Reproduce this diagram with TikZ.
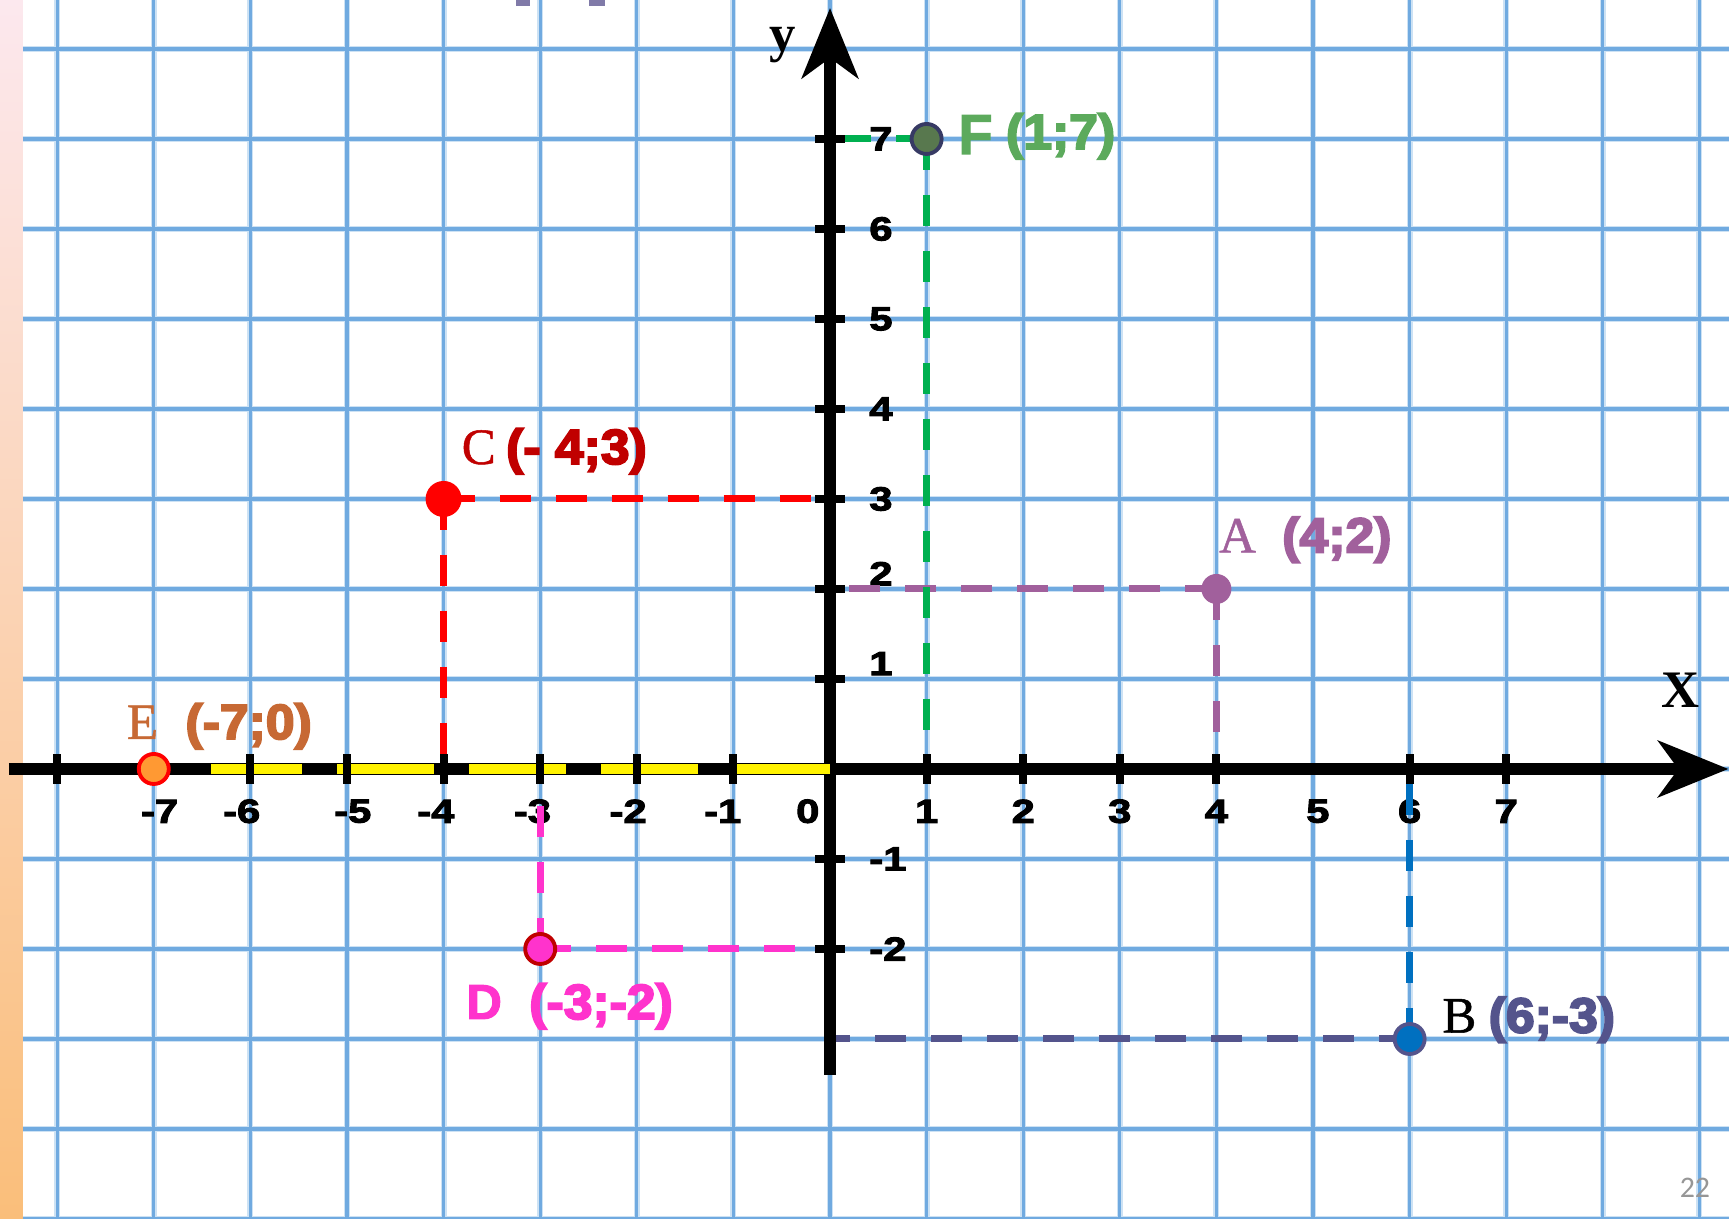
\documentclass[tikz,border=0pt]{standalone}
\usepackage{fontspec}
\setmainfont{Liberation Serif}
\newfontfamily\numfont[FakeStretch=1.25,FakeBold=3]{Liberation Sans}
\newfontfamily\coordfont[FakeStretch=1.05,FakeBold=4]{Liberation Sans}
\newfontfamily\letterfont[FakeBold=2]{Liberation Sans}
\newfontfamily\serifletter[FakeBold=1]{Liberation Serif}
\newfontfamily\pagefont{Carlito}
\usepackage{xcolor}
\definecolor{gridblue}{RGB}{112,170,224}
\definecolor{gridpale}{RGB}{205,226,244}
\definecolor{strippink}{RGB}{252,232,238}
\definecolor{striporange}{RGB}{250,190,122}
\definecolor{topmark}{RGB}{128,122,168}
\definecolor{plum}{RGB}{161,96,156}
\definecolor{pointblue}{RGB}{0,112,192}
\definecolor{slate}{RGB}{84,84,140}
\definecolor{darkred}{RGB}{192,0,0}
\definecolor{magentaD}{RGB}{255,51,204}
\definecolor{orangeE}{RGB}{255,153,51}
\definecolor{brownE}{RGB}{199,105,52}
\definecolor{greenF}{RGB}{0,176,80}
\definecolor{leafgreen}{RGB}{92,170,92}
\definecolor{oliveF}{RGB}{88,120,78}
\definecolor{navyF}{RGB}{55,58,100}
\definecolor{pagegrey}{RGB}{150,150,150}
\usepackage{tikz}
\usetikzlibrary{arrows.meta,positioning}
\tikzset{
  >={Stealth[length=7mm,width=5.6mm,inset=2mm]},
  gridwide/.style={draw=gridpale,line width=1.7pt,step=1},
  gridcore/.style={draw=gridblue,line width=0.9pt,step=1},
  axis/.style={->,draw=black,line width=3.5pt},
  highlight/.style={draw=yellow,line width=2.8pt,dash pattern=on 9.7mm off 3.5mm},
  tickmark/.style={draw=black,line width=2.3pt},
  ticklabel/.style={font=\numfont\bfseries\fontsize{9.5}{11}\selectfont,inner sep=0pt},
  guide/.style={line width=2pt,dash pattern=on 3.1mm off 2.5mm},
  point/.style={circle,inner sep=0pt,minimum size=3mm,line width=1.1pt},
  letter/.style={font=\serifletter\fontsize{14.5}{16}\selectfont,inner sep=0pt,anchor=base west},
  sansletter/.style={font=\letterfont\bfseries\fontsize{14}{16}\selectfont,inner sep=0pt,anchor=base west},
  coordlabel/.style={font=\coordfont\bfseries\fontsize{14}{16}\selectfont,inner sep=0pt,anchor=base west},
  axisname/.style={font=\bfseries\fontsize{15}{17}\selectfont,inner sep=0pt}
}

\begin{document}
\begin{tikzpicture}[x=0.966cm,y=0.9cm]
  % Paper
  \useasboundingbox (-8.592,-5) rectangle (9.306,8.544);
  \fill[white] (-8.592,-5) rectangle (9.306,8.544);
  \shade[top color=strippink,bottom color=striporange] (-8.592,-5) rectangle (-8.354,8.544);
  \draw[gridwide] (-8.354,-5) grid (9.306,8.544);
  \draw[gridcore] (-8.354,-5) grid (9.306,8.544);
  \fill[topmark] (-3.25,8.478) rectangle (-3.106,8.544);
  \fill[topmark] (-2.495,8.478) rectangle (-2.329,8.544);

  % Tick labels
  \foreach \n/\s in {1/0,2/0,3/0,4/0,5/0.05,6/0,7/0}
    \node[ticklabel] (xp\n) at (\n+\s,-0.47) {\n};
  \foreach \n/\s in {1/-0.11,2/-0.09,3/-0.08,4/-0.08,5/0.06,6/-0.09,7/0.06}
    \node[ticklabel] (xm\n) at (-\n+\s,-0.47) {-\n};
  \node[ticklabel] (zero) at (-0.23,-0.47) {0};
  \foreach \n/\s [count=\i] in {7/0,6/0,5/0,4/0,3/0,2/0.17,1/0.17,-1/0,-2/0}
    \node[ticklabel,anchor=west] (yl\i) at (0.4,\n+\s) {\n};

  % Point centres and their feet on the axes
  \coordinate (pA) at (4,2);   \coordinate (Ax) at (4,0);  \coordinate (Ay) at (0,2);
  \coordinate (pB) at (6,-3);  \coordinate (Bx) at (6,0);  \coordinate (By) at (0,-3);
  \coordinate (pC) at (-4,3);  \coordinate (Cx) at (-4,0); \coordinate (Cy) at (0,3);
  \coordinate (pD) at (-3,-2); \coordinate (Dx) at (-3,0); \coordinate (Dy) at (0,-2);
  \coordinate (pE) at (-7,0);
  \coordinate (pF) at (1,7);   \coordinate (Fx) at (1,0);  \coordinate (Fy) at (0,7);

  % Guides
  \draw[guide,plum] (pA) -- (Ay);
  \draw[guide,plum] (pA) -- (Ax);
  \draw[guide,slate] (pB) -- (By);
  \draw[guide,pointblue] (pB) -- (Bx);
  \draw[guide,red] (pC) -- (Cy);
  \draw[guide,red] (pC) -- (Cx);
  \draw[guide,magentaD] (pD) -- (Dy);
  \draw[guide,magentaD] (pD) -- (Dx);
  \draw[guide,greenF] (pF) -- (Fy);
  \draw[guide,greenF] (pF) -- (Fx);

  % Axes
  \coordinate (O) at (0,0);
  \coordinate (xleft) at (-8.5,0);
  \coordinate (xright) at (9.3,0);
  \coordinate (ybot) at (0,-3.4);
  \coordinate (ytop) at (0,8.456);
  \coordinate (yelEnd) at (-6.41,0);
  \draw[axis] (xleft) -- (xright);
  \draw[axis] (ybot) -- (ytop);
  \draw[highlight] (O) -- (yelEnd);
  \foreach \x in {-8,...,-1,1,2,3,4,6,7}
    \draw[tickmark] (\x,0) ++(0,-1.5mm) -- ++(0,3mm);
  \foreach \y in {-2,-1,1,2,...,7}
    \draw[tickmark] (0,\y) ++(-1.5mm,0) -- ++(3mm,0);
  \node[axisname] (xname) at (8.8,0.88) {X};
  \node[axisname] (yname) at (-0.487,8.044) {y};

  % Points
  \node[point,fill=plum] (A) at (pA) {};
  \node[point,fill=pointblue,draw=slate] (B) at (pB) {};
  \node[point,fill=red,minimum size=3.6mm] (C) at (pC) {};
  \node[point,fill=magentaD,draw=darkred] (D) at (pD) {};
  \node[point,fill=orangeE,draw=red] (E) at (pE) {};
  \node[point,fill=oliveF,draw=navyF] (F) at (pF) {};

  % Point labels
  \node[letter,text=plum] (Alab) at ([xshift=0.2mm,yshift=3.65mm]pA) {A};
  \node[coordlabel,text=plum] (Acoord) at ([xshift=2.5mm]Alab.base east) {(4;2)};
  \node[letter,text=black] (Blab) at ([xshift=3.2mm,yshift=0.65mm]pB) {B};
  \node[coordlabel,text=slate] (Bcoord) at ([xshift=1.1mm]Blab.base east) {(6;-3)};
  \node[letter,text=darkred] (Clab) at ([xshift=1.75mm,yshift=3.5mm]pC) {C};
  \node[coordlabel,text=darkred] (Ccoord) at ([xshift=0.9mm]Clab.base east) {(- 4;3)};
  \node[sansletter,text=magentaD] (Dlab) at ([xshift=-7.45mm,yshift=-7mm]pD) {D};
  \node[coordlabel,text=magentaD] (Dcoord) at ([xshift=2.6mm]Dlab.base east) {(-3;-2)};
  \node[letter,text=brownE] (Elab) at ([xshift=-2.75mm,yshift=3mm]pE) {E};
  \node[coordlabel,text=brownE] (Ecoord) at ([xshift=2.6mm]Elab.base east) {(-7;0)};
  \node[sansletter,text=leafgreen,font=\letterfont\bfseries\fontsize{16}{18}\selectfont] (Flab) at ([xshift=3.1mm,yshift=-1.5mm]pF) {F};
  \node[coordlabel,text=leafgreen] (Fcoord) at ([xshift=1.2mm,yshift=0.5mm]Flab.base east) {(1;7)};

  % Page number
  \node[font=\pagefont\fontsize{8.5}{10}\selectfont,text=pagegrey,inner sep=0pt] (page) at (8.954,-4.656) {22};
\end{tikzpicture}
\end{document}
